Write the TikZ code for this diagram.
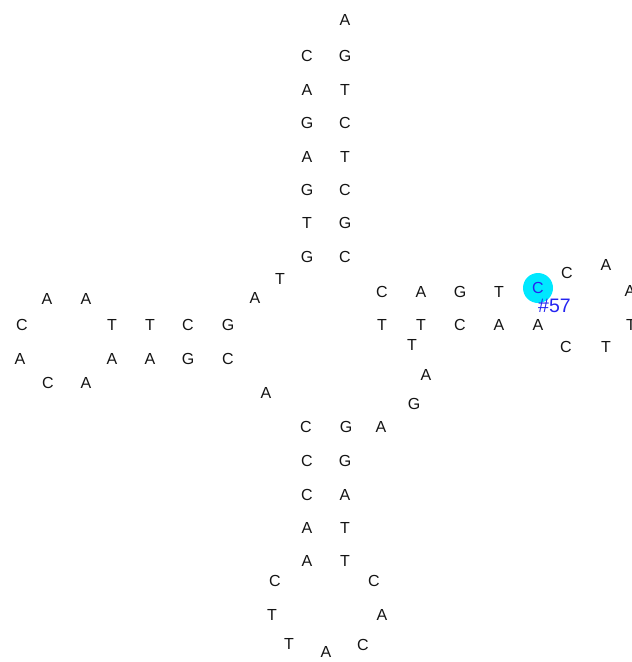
\documentclass[tikz,border=0pt]{standalone}
\usepackage{fontspec}
\setmainfont{Liberation Sans}
\definecolor{hilite}{RGB}{0, 232, 255}
\definecolor{markblue}{RGB}{36, 36, 240}
\definecolor{basegray}{RGB}{20, 20, 20}

\begin{document}
\begin{tikzpicture}[x=1pt,y=-1pt,
  base/.style={inner sep=0pt,text=basegray,font=\fontsize{16}{18}\selectfont},
  marked/.style={base,text=markblue},
  halo/.style={circle,fill=hilite,minimum size=30pt,inner sep=0pt}]
  \useasboundingbox (0,0) rectangle (632,662);

  % top hairpin
  \foreach \x/\y/\b [count=\i] in {345/20/A, 307/56/C, 345/56/G, 307/90/A, 345/90/T,
      307/123/G, 345/123/C, 307/157/A, 345/157/T, 307/190/G, 345/190/C,
      307/223/T, 345/223/G, 307/257/G, 345/257/C, 280/279/T, 255/298/A}
    \node[base] (t\i) at (\x,\y) {\b};

  % left hairpin
  \foreach \x/\y/\b [count=\i] in {47/299/A, 86/299/A, 22/325/C, 112/325/T, 150/325/T,
      188/325/C, 228/325/G, 20/359/A, 112/359/A, 150/359/A, 188/359/G, 228/359/C,
      48/383/C, 86/383/A, 266/393/A}
    \node[base] (l\i) at (\x,\y) {\b};

  % right hairpin
  \node[halo] (hit) at (538,288) {};
  \node[marked] (r5) at (hit) {C};
  \node[marked,anchor=west,font=\fontsize{19.5}{21}\selectfont] (num) at (538,306) {\#57};
  \foreach \x/\y/\b [count=\i] in {382/292/C, 421/292/A, 460/292/G, 499/292/T}
    \node[base] (r\i) at (\x,\y) {\b};
  \foreach \x/\y/\b [count=\i from 6] in {567/273/C, 606/265/A, 630/291/A, 631/325/T,
      606/347/T, 566/347/C, 538/325/A, 499/325/A, 460/325/C, 421/325/T, 382/325/T,
      412/345/T, 426/375/A, 414/404/G}
    \node[base] (r\i) at (\x,\y) {\b};

  % bottom hairpin
  \foreach \x/\y/\b [count=\i] in {306/427/C, 346/427/G, 381/427/A, 307/461/C, 345/461/G,
      307/495/C, 345/495/A, 307/528/A, 345/528/T, 307/561/A, 345/561/T,
      275/581/C, 374/581/C, 272/615/T, 382/615/A, 289/644/T, 363/645/C, 326/652/A}
    \node[base] (b\i) at (\x,\y) {\b};
\end{tikzpicture}
\end{document}
